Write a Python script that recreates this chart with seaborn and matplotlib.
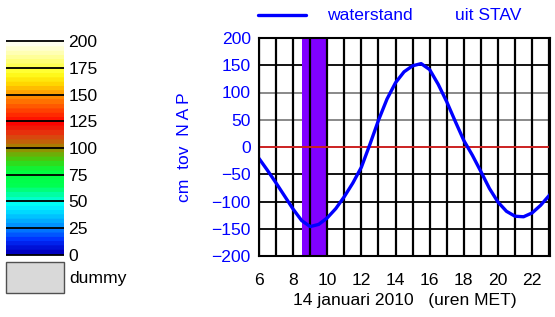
import numpy as np
import pandas as pd
import matplotlib
matplotlib.use("Agg")
import matplotlib.pyplot as plt
import seaborn as sns
from matplotlib.colors import LinearSegmentedColormap
from matplotlib.patches import Rectangle
from matplotlib.lines import Line2D

# waterstand (cm t.o.v. NAP), 14 januari 2010, uren MET
uren = [6, 6.5, 7, 7.5, 8, 8.5, 9, 9.5, 10, 10.5, 11, 11.5, 12, 12.5, 13, 13.5,
        14, 14.5, 15, 15.5, 16, 16.5, 17, 17.5, 18, 18.5, 19, 19.5, 20, 20.5,
        21, 21.5, 22, 22.5, 23, 23.05]
waterstand = [-21, -43, -66, -90, -114, -135, -146, -142, -130, -113, -91, -66,
              -37, 5, 49, 88, 118, 138, 149, 153, 142, 115, 83, 47, 12, -15,
              -45, -76, -101, -118, -127, -128, -121, -107, -89, -87]

band_start, band_end = 8.5, 9.95
y_ticks = [200, 150, 100, 50, 0, -50, -100, -150, -200]
x_ticks = [6, 8, 10, 12, 14, 16, 18, 20, 22]
cb_levels = [0, 25, 50, 75, 100, 125, 150, 175, 200]

cb_stops = [(0.00, "#0000c0"), (0.06, "#0030ff"), (0.125, "#0090ff"),
            (0.19, "#00d8ff"), (0.23, "#00ffff"), (0.27, "#00ffb0"),
            (0.32, "#00ff50"), (0.39, "#00ff40"), (0.44, "#40d010"),
            (0.50, "#a08800"), (0.56, "#e04010"), (0.62, "#ff0000"),
            (0.68, "#ff4000"), (0.75, "#ff9000"), (0.81, "#ffd800"),
            (0.86, "#ffff20"), (0.93, "#ffff90"), (1.00, "#ffffee")]

df = pd.DataFrame({"uur": uren, "waterstand": waterstand})

sns.set_style("white")
plt.rcParams["font.family"] = ["Liberation Sans", "DejaVu Sans"]
plt.rcParams["text.color"] = "black"
plt.rcParams["xtick.color"] = "black"
plt.rcParams["ytick.color"] = "black"
plt.rcParams["axes.labelcolor"] = "black"
FS = 12.6

fig = plt.figure(figsize=(5.55, 3.17), dpi=100)
W, H = 555, 317

def fx(px):
    return px / W

def fy(py):
    return 1 - py / H

# main axes
ax = fig.add_axes([fx(259), fy(256), fx(550) - fx(259), fy(38) - fy(256)])
ax.set_xlim(6, 23.05)
ax.set_ylim(-200, 200)

for y in y_ticks:
    c = "#808080" if y in (50, 100) else "black"
    if y != 0:
        ax.axhline(y, color=c, lw=1.3, zorder=1)
ax.axvspan(band_start, band_end, color="#8000ff", lw=0, zorder=2)
for h in range(6, 24):
    ax.axvline(h, color="black", lw=1.6, zorder=3)
ax.axhline(0, color="#cc2020", lw=1.4, zorder=4)

sns.lineplot(data=df, x="uur", y="waterstand", color="#0000ff", lw=2.4,
             ax=ax, zorder=5)

ax.set_xticks(x_ticks)
ax.set_yticks(y_ticks)
ax.tick_params(axis="both", length=0, labelsize=FS)
ax.tick_params(axis="x", pad=12, labelcolor="black")
ax.tick_params(axis="y", pad=6, labelcolor="#0000ff")
ax.set_xlabel("14 januari 2010   (uren MET)", fontsize=FS, labelpad=4)
ax.set_ylabel("cm  tov  N A P", fontsize=FS, color="#0000ff", labelpad=14)
for s in ax.spines.values():
    s.set_color("black")
    s.set_linewidth(1.5)
    s.set_zorder(6)

# legend at top
fig.add_artist(Line2D([fx(258), fx(306)], [fy(15), fy(15)], color="#0000ff",
                      lw=2.4, transform=fig.transFigure))
fig.text(fx(327), fy(15), "waterstand", color="#0000ff", fontsize=FS, va="center")
fig.text(fx(455), fy(15), "uit STAV", color="#0000ff", fontsize=FS, va="center")

# colour bar
cmap = LinearSegmentedColormap.from_list("stav", cb_stops, N=48)
cax = fig.add_axes([fx(6), fy(256), fx(64) - fx(6), fy(40) - fy(256)])
grad = np.linspace(0, 200, 200).reshape(-1, 1)
cax.imshow(grad, aspect="auto", cmap=cmap, origin="lower",
           extent=[0, 1, 0, 200], vmin=0, vmax=200)
for lv in cb_levels:
    cax.axhline(lv, color="black", lw=1.3)
cax.set_xlim(0, 1)
cax.set_ylim(-1, 201)
cax.set_xticks([])
cax.set_yticks(cb_levels)
cax.yaxis.tick_right()
cax.tick_params(axis="y", length=0, pad=3, labelsize=FS, labelcolor="black")
for s in cax.spines.values():
    s.set_visible(False)

# dummy box
fig.add_artist(Rectangle((fx(6), fy(293)), fx(64) - fx(6), fy(262) - fy(293),
                         facecolor="#d9d9d9", edgecolor="#505050", lw=1,
                         transform=fig.transFigure))
fig.text(fx(69), fy(278), "dummy", fontsize=FS, va="center")

fig.savefig("out.png", dpi=100)
